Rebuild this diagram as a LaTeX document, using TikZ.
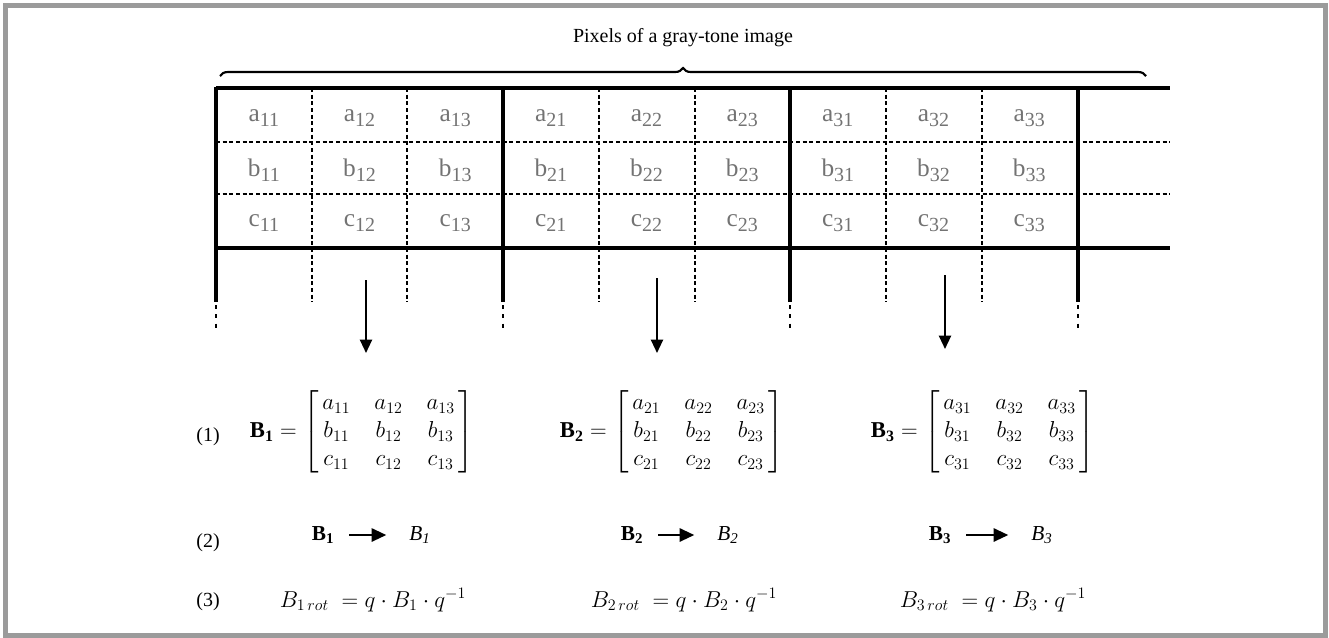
\documentclass[tikz,border=0pt]{standalone}
\usepackage{fontspec}
\usepackage{amsmath}
\setmainfont{Liberation Serif}
\usetikzlibrary{arrows.meta,decorations.pathreplacing}

\tikzset{every picture/.style={line width=0.75pt}}
\newcommand{\pxsub}[2]{#1\raisebox{-0.4ex}{\fontsize{15}{15}\selectfont #2}}

\begin{document}
\begin{tikzpicture}[x=0.75pt,y=0.75pt,yscale=-1,xscale=1,
  cell/.style={text={rgb,255:red,115;green,115;blue,115}, font=\fontsize{19}{22}\selectfont, inner sep=0pt},
  thickrule/.style={line width=2.3pt},
  dashrule/.style={line width=0.9pt, dash pattern=on 3pt off 2pt},
  dotrule/.style={line width=2pt, dash pattern=on 3pt off 4pt},
  eqnum/.style={font=\fontsize{15}{18}\selectfont, inner sep=1pt},
  mat/.style={font=\fontsize{17}{21}\selectfont, inner sep=0pt},
  maparrow/.style={line width=1.6pt, -{Triangle[length=10pt,width=9pt]}}]
\useasboundingbox (0,0) rectangle (1329,637);
%frame
\draw [color={rgb, 255:red, 155; green, 155; blue, 155 }, line width=3.75] (5.5,5.5) rectangle (1325,635) ;

%title and brace
\node [font=\fontsize{15}{18}\selectfont] (title) at (683,38) {Pixels of a gray-tone image} ;
\draw [line width=1.6, decorate, decoration={brace, amplitude=6pt}] (220,76) -- (1146,76) ;

%horizontal rules
\draw [thickrule] (216,88) -- (1170,88) ;
\draw [dashrule] (216,142) -- (1170,142) ;
\draw [dashrule] (216,194) -- (1170,194) ;
\draw [thickrule] (216,248) -- (1170,248) ;

%block borders and pixel borders
\foreach \xb in {216,503,790,1078} {
  \draw [thickrule] (\xb,87) -- (\xb,302) ;
  \draw [dotrule] (\xb,305) -- (\xb,330) ;
}
\foreach \xd in {312,407,599,695,886,982}
  \draw [dashrule] (\xd,88) -- (\xd,302) ;

%pixel values
\foreach \k/\xo in {1/216,2/503,3/790} {
  \foreach \j in {1,2,3} {
    \pgfmathsetmacro{\xc}{\xo+(\j-0.5)*95.7}
    \node [cell] (a\k\j) at (\xc,118) {\pxsub{a}{\k\j}} ;
    \node [cell] (b\k\j) at (\xc,170) {\pxsub{b}{\k\j}} ;
    \node [cell] (c\k\j) at (\xc,223) {\pxsub{c}{\k\j}} ;
  }
}

%matrices
\setlength{\arraycolsep}{9pt}
\node [eqnum] (n1) at (208,437) {(1)} ;
\node [mat] (M1) at (362,432) {$\mathbf{B_1}=\left[\begin{array}{@{\,}ccc@{\,}} a_{11} & a_{12} & a_{13}\\ b_{11} & b_{12} & b_{13}\\ c_{11} & c_{12} & c_{13}\end{array}\right]$} ;
\node [mat] (M2) at (672,432) {$\mathbf{B_2}=\left[\begin{array}{@{\,}ccc@{\,}} a_{21} & a_{22} & a_{23}\\ b_{21} & b_{22} & b_{23}\\ c_{21} & c_{22} & c_{23}\end{array}\right]$} ;
\node [mat] (M3) at (983,432) {$\mathbf{B_3}=\left[\begin{array}{@{\,}ccc@{\,}} a_{31} & a_{32} & a_{33}\\ b_{31} & b_{32} & b_{33}\\ c_{31} & c_{32} & c_{33}\end{array}\right]$} ;

%block arrows
\coordinate (s1) at (366,280) ;
\coordinate (e1) at (366,353) ;
\coordinate (s2) at (657,278) ;
\coordinate (e2) at (657,353) ;
\coordinate (s3) at (945,275) ;
\coordinate (e3) at (945,349) ;
\draw [maparrow] (s1) -- (e1) ;
\draw [maparrow] (s2) -- (e2) ;
\draw [maparrow] (s3) -- (e3) ;

%quaternion mapping
\node [eqnum] (n2) at (208,543) {(2)} ;
\node [eqnum, font=\fontsize{16}{18}\selectfont\bfseries] (Q1) at (323,535) {B\textsubscript{1}} ;
\node [eqnum, font=\fontsize{16}{18}\selectfont\itshape] (R1) at (420,535) {B\textsubscript{1}} ;
\node [eqnum, font=\fontsize{16}{18}\selectfont\bfseries] (Q2) at (632,535) {B\textsubscript{2}} ;
\node [eqnum, font=\fontsize{16}{18}\selectfont\itshape] (R2) at (728,535) {B\textsubscript{2}} ;
\node [eqnum, font=\fontsize{16}{18}\selectfont\bfseries] (Q3) at (940,535) {B\textsubscript{3}} ;
\node [eqnum, font=\fontsize{16}{18}\selectfont\itshape] (R3) at (1042,535) {B\textsubscript{3}} ;
\draw [maparrow, line width=1.5pt, -{Triangle[length=11pt,width=10pt]}, shorten <=10pt, shorten >=16pt] (Q1) -- (R1) ;
\draw [maparrow, line width=1.5pt, -{Triangle[length=11pt,width=10pt]}, shorten <=10pt, shorten >=16pt] (Q2) -- (R2) ;
\draw [maparrow, line width=1.5pt, -{Triangle[length=11pt,width=10pt]}, shorten <=10pt, shorten >=16pt] (Q3) -- (R3) ;

%rotation
\node [eqnum] (n3) at (208,602) {(3)} ;
\node [mat] (rot1) at (373,600) {$B_{1\,rot}\;=q\cdot B_1\cdot q^{-1}$} ;
\node [mat] (rot2) at (684,600) {$B_{2\,rot}\;=q\cdot B_2\cdot q^{-1}$} ;
\node [mat] (rot3) at (993,600) {$B_{3\,rot}\;=q\cdot B_3\cdot q^{-1}$} ;
\end{tikzpicture}
\end{document}
